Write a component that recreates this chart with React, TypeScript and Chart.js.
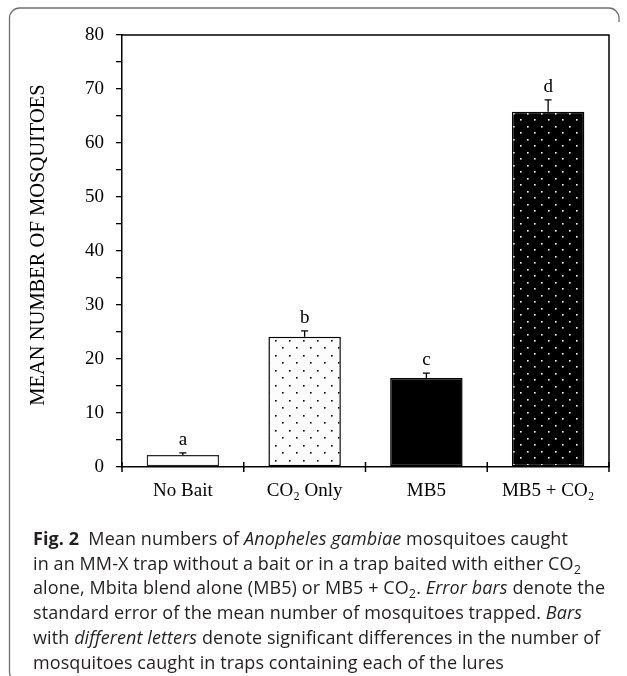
import React, { useEffect, useRef } from 'react';
import { Chart, registerables } from 'chart.js';

Chart.register(...registerables);

// ---- data ----
const categories = ['No Bait', 'CO\u2082 Only', 'MB5', 'MB5 + CO\u2082'];
const meanValues = [2.2, 24.1, 16.5, 65.8];
const seValues = [0.4, 1.1, 0.9, 2.2];
const groupLetters = ['a', 'b', 'c', 'd'];
const yMin = 0;
const yMax = 80;
const yMinorStep = 5;
const yLabelStep = 10;
const yAxisTitle = 'MEAN NUMBER OF MOSQUITOES';

const serif = '"Liberation Serif", "Times New Roman", serif';

function makeDotPattern(bg: string, dot: string, w: number, h: number, size: number) {
  const c = document.createElement('canvas');
  c.width = w;
  c.height = h;
  const g = c.getContext('2d')!;
  g.fillStyle = bg;
  g.fillRect(0, 0, w, h);
  g.fillStyle = dot;
  g.fillRect(2, 2, size, size);
  g.fillRect(2 + Math.round(w / 2), 2 + Math.round(h / 2), size, size);
  return g.createPattern(c, 'repeat')!;
}

export default function App() {
  const ref = useRef<HTMLCanvasElement>(null);

  useEffect(() => {
    const canvas = ref.current!;
    const co2Pattern = makeDotPattern('#fcfcfc', '#000000', 14, 15, 1.6);
    const mbPattern = makeDotPattern('#000000', '#ffffff', 14, 13, 1.6);
    const fills = ['#ffffff', co2Pattern, '#000000', mbPattern];
    const borders = ['#2a2a2a', '#000000', '#000000', '#000000'];

    const overlay = {
      id: 'overlay',
      afterDraw(chart: any) {
        const ctx = chart.ctx as CanvasRenderingContext2D;
        const xs = chart.scales.x;
        const ys = chart.scales.y;
        const a = chart.chartArea;
        ctx.save();
        ctx.strokeStyle = '#000';
        ctx.lineWidth = 1.5;
        // box top & right
        ctx.beginPath();
        ctx.moveTo(a.left, a.top);
        ctx.lineTo(a.right, a.top);
        ctx.lineTo(a.right, a.bottom);
        ctx.stroke();
        // category boundary ticks (crossing the axis)
        for (let i = 0; i <= categories.length; i++) {
          const px = xs.getPixelForValue(i - 0.5);
          ctx.beginPath();
          ctx.moveTo(px, a.bottom - 5);
          ctx.lineTo(px, a.bottom + 5);
          ctx.stroke();
        }
        // error bars + letters
        ctx.lineWidth = 1.3;
        meanValues.forEach((m, i) => {
          const px = xs.getPixelForValue(i);
          const yb = ys.getPixelForValue(m);
          const yt = ys.getPixelForValue(m + seValues[i]);
          ctx.beginPath();
          ctx.moveTo(px, yb);
          ctx.lineTo(px, yt);
          ctx.moveTo(px - 3.5, yt);
          ctx.lineTo(px + 3.5, yt);
          ctx.stroke();
          ctx.fillStyle = '#000';
          ctx.font = `19px ${serif}`;
          ctx.textAlign = 'center';
          ctx.textBaseline = 'alphabetic';
          ctx.fillText(groupLetters[i], px, yt - 8);
        });
        // y axis title
        ctx.save();
        ctx.translate(39, 245);
        ctx.rotate(-Math.PI / 2);
        ctx.font = `20.5px ${serif}`;
        ctx.textAlign = 'center';
        ctx.textBaseline = 'middle';
        ctx.fillStyle = '#000';
        ctx.fillText(yAxisTitle, 0, 0);
        ctx.restore();
        // figure frame
        ctx.strokeStyle = '#707070';
        ctx.lineWidth = 1.3;
        ctx.beginPath();
        ctx.moveTo(9.5, 672);
        ctx.lineTo(9.5, 18);
        ctx.arcTo(9.5, 8, 19.5, 8, 10);
        ctx.lineTo(609, 8);
        ctx.arcTo(619, 8, 619, 18, 10);
        ctx.lineTo(619, 22);
        ctx.moveTo(9.5, 672);
        ctx.arcTo(9.5, 682, 19.5, 682, 10);
        ctx.stroke();
        ctx.restore();
      },
    };

    const chart = new Chart(canvas, {
      type: 'bar',
      data: {
        labels: categories,
        datasets: [
          {
            data: meanValues,
            backgroundColor: fills as any,
            borderColor: borders,
            borderWidth: 1.5,
            borderSkipped: false,
            barPercentage: 0.595,
            categoryPercentage: 1,
          },
        ],
      },
      options: {
        responsive: false,
        animation: false,
        devicePixelRatio: 1,
        layout: { padding: { left: 0, top: 35, right: 18, bottom: 169 } },
        plugins: {
          legend: { display: false },
          tooltip: { enabled: false },
          title: { display: false },
        },
        scales: {
          x: {
            type: 'category',
            offset: true,
            grid: { display: false, drawTicks: false },
            border: { display: true, color: '#000', width: 1.5 },
            ticks: {
              color: '#000',
              font: { family: serif, size: 19 },
              padding: 13,
              maxRotation: 0,
              autoSkip: false,
            },
            afterFit: (s: any) => {
              s.height = 40;
            },
          },
          y: {
            min: yMin,
            max: yMax,
            grid: { drawOnChartArea: false, drawTicks: true, tickLength: 6, color: '#000', lineWidth: 1.3 },
            border: { display: true, color: '#000', width: 1.5 },
            ticks: {
              stepSize: yMinorStep,
              autoSkip: false,
              color: '#000',
              font: { family: serif, size: 19 },
              padding: 12,
              callback: (v: any) => (Number(v) % yLabelStep === 0 ? String(v) : ''),
            },
            afterFit: (s: any) => {
              s.width = 122;
            },
          },
        },
      },
      plugins: [overlay],
    } as any);
    return () => chart.destroy();
  }, []);

  const sub: React.CSSProperties = { fontSize: '0.7em', verticalAlign: '-0.35em', lineHeight: 0 };

  return (
    <div style={{ position: 'absolute', left: 0, top: 0, width: 627, height: 676, overflow: 'hidden', background: '#fff' }}>
      <canvas ref={ref} width={627} height={676} style={{ position: 'absolute', left: 0, top: 0, width: 627, height: 676 }} />
      <div
        style={{
          position: 'absolute',
          left: 33,
          top: 526,
          fontFamily: '"Open Sans", "Noto Sans", sans-serif',
          fontSize: 18,
          letterSpacing: '0.1px',
          lineHeight: '24.7px',
          color: '#231f20',
          whiteSpace: 'nowrap',
        }}
      >
        <div>
          <b>Fig. 2</b>&ensp;Mean numbers of <i>Anopheles gambiae</i> mosquitoes caught
        </div>
        <div>
          in an MM-X trap without a bait or in a trap baited with either CO<span style={sub}>2</span>
        </div>
        <div>
          alone, Mbita blend alone (MB5) or MB5 + CO<span style={sub}>2</span>. <i>Error bars</i> denote the
        </div>
        <div>
          standard error of the mean number of mosquitoes trapped. <i>Bars</i>
        </div>
        <div>
          with <i>different letters</i> denote significant differences in the number of
        </div>
        <div>mosquitoes caught in traps containing each of the lures</div>
      </div>
    </div>
  );
}
